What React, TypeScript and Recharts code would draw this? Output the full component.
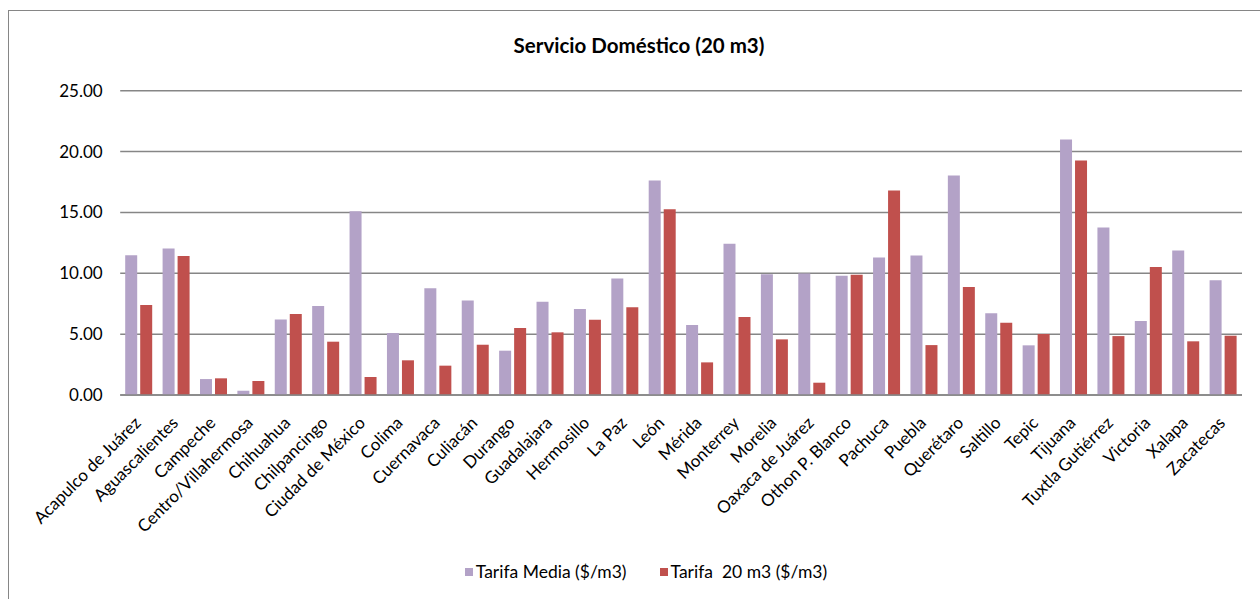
import React from 'react';
import { BarChart, Bar, XAxis, YAxis, CartesianGrid, Legend } from 'recharts';

const categories = [
  'Acapulco de Juárez', 'Aguascalientes', 'Campeche', 'Centro/Villahermosa', 'Chihuahua',
  'Chilpancingo', 'Ciudad de México', 'Colima', 'Cuernavaca', 'Culiacán',
  'Durango', 'Guadalajara', 'Hermosillo', 'La Paz', 'León',
  'Mérida', 'Monterrey', 'Morelia', 'Oaxaca de Juárez', 'Othon P. Blanco',
  'Pachuca', 'Puebla', 'Querétaro', 'Saltillo', 'Tepic',
  'Tijuana', 'Tuxtla Gutiérrez', 'Victoria', 'Xalapa', 'Zacatecas',
];

const tarifaMedia = [
  11.49, 12.04, 1.31, 0.35, 6.21, 7.31, 15.1, 5.09, 8.76, 7.77,
  3.64, 7.66, 7.06, 9.58, 17.63, 5.75, 12.42, 9.93, 9.99, 9.8,
  11.3, 11.47, 18.04, 6.71, 4.08, 20.99, 13.77, 6.08, 11.88, 9.42,
];

const tarifa20 = [
  7.39, 11.41, 1.37, 1.15, 6.65, 4.38, 1.48, 2.85, 2.41, 4.13,
  5.5, 5.15, 6.18, 7.2, 15.27, 2.68, 6.4, 4.57, 1.01, 9.88,
  16.8, 4.1, 8.87, 5.94, 5.01, 19.27, 4.84, 10.51, 4.41, 4.87,
];

const yTicks = [0, 5, 10, 15, 20, 25];
const seriesNames = ['Tarifa Media ($/m3)', 'Tarifa  20 m3 ($/m3)'];
const title = 'Servicio Doméstico (20 m3)';

const data = categories.map((c, i) => ({ name: c, media: tarifaMedia[i], t20: tarifa20[i] }));

const FONT = 'Lato, "Open Sans", sans-serif';

const CategoryTick = (props: any) => {
  const { x, y, payload } = props;
  return (
    <g transform={`translate(${x + 3},${y + 29})`}>
      <text x={0} y={0} textAnchor="end" transform="rotate(-45)" fontSize={17} fill="#000" fontFamily={FONT}>
        {payload.value}
      </text>
    </g>
  );
};

const renderLegend = (props: any) => {
  const items = [...(props.payload || [])].sort(
    (a: any, b: any) => seriesNames.indexOf(a.value) - seriesNames.indexOf(b.value)
  );
  return (
    <div
      style={{
        display: 'flex',
        justifyContent: 'center',
        paddingLeft: 23,
        fontFamily: FONT,
        fontSize: 17.5,
        lineHeight: '20px',
        color: '#000',
      }}
    >
      {items.map((e: any, i: number) => (
        <div key={i} style={{ display: 'flex', alignItems: 'center', marginLeft: i ? 33 : 0 }}>
          <span style={{ width: 8, height: 8, background: e.color, display: 'inline-block', marginRight: 3 }} />
          <span style={{ whiteSpace: 'pre' }}>{e.value}</span>
        </div>
      ))}
    </div>
  );
};

export default function App() {
  return (
    <div
      style={{
        position: 'absolute',
        left: 8,
        top: 10,
        width: 1252,
        height: 589,
        boxSizing: 'border-box',
        borderTop: '1px solid #868686',
        borderLeft: '1px solid #868686',
        background: '#fff',
        fontFamily: FONT,
      }}
    >
      <div
        style={{
          position: 'absolute',
          left: 0,
          top: 22,
          width: 1260,
          textAlign: 'center',
          fontSize: 20.5,
          lineHeight: '24px',
          fontWeight: 700,
          color: '#000',
          zIndex: 2,
        }}
      >
        {title}
      </div>
      <BarChart
        width={1251}
        height={588}
        data={data}
        margin={{ top: 79.7, right: 18, bottom: 17, left: 51.2 }}
        barSize={12}
        barGap={3}
      >
        <CartesianGrid vertical={false} stroke="#868686" strokeWidth={1.5} />
        <XAxis
          dataKey="name"
          interval={0}
          height={167}
          tickSize={0}
          tickMargin={0}
          tick={<CategoryTick />}
          axisLine={{ stroke: '#868686', strokeWidth: 1.5 }}
          tickLine={false}
        />
        <YAxis
          width={60}
          domain={[0, 25]}
          ticks={yTicks}
          interval={0}
          tickFormatter={(v: number) => v.toFixed(2)}
          axisLine={false}
          tickLine={false}
          tickSize={0}
          tickMargin={17.5}
          tick={{ fontSize: 17, fill: '#000', fontFamily: FONT }}
        />
        <Legend verticalAlign="bottom" content={renderLegend} wrapperStyle={{ left: 0, width: 1251 }} />
        <Bar dataKey="media" name={seriesNames[0]} fill="#B3A2C7" isAnimationActive={false} />
        <Bar dataKey="t20" name={seriesNames[1]} fill="#C0504D" isAnimationActive={false} />
      </BarChart>
    </div>
  );
}
